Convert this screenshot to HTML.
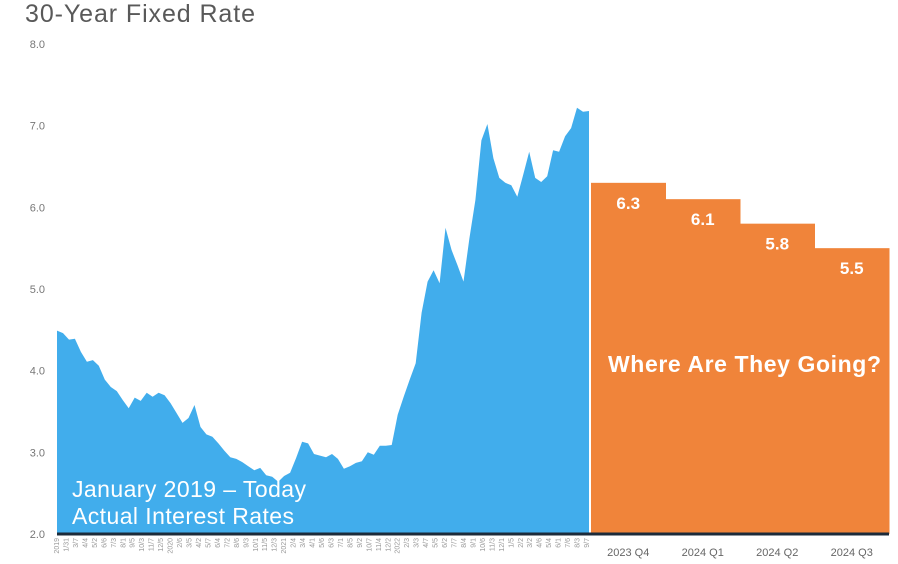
<!DOCTYPE html>
<html><head><meta charset="utf-8"><style>
body{margin:0;background:#fff;}
svg{display:block;font-family:"Liberation Sans",sans-serif;}
</style></head><body>
<svg id="chart" width="898" height="564" viewBox="0 0 898 564">
<text x="25" y="22" font-size="25" fill="#595959" textLength="230">30-Year Fixed Rate</text>
<g id="yaxis"></g>
<g id="area"></g>
<g id="bars"></g>
<g id="xaxis"></g>
<line x1="57" y1="534" x2="889" y2="534" stroke="#1c2b3a" stroke-width="3"/>
<text x="72" y="497" font-size="23" fill="#fff" textLength="234">January 2019 – Today</text>
<text x="72" y="524" font-size="23" fill="#fff" textLength="222">Actual Interest Rates</text>
<text x="608" y="372" font-size="23" font-weight="bold" fill="#fff" textLength="273">Where Are They Going?</text>
</svg>
<script>
const yTicks=[2,3,4,5,6,7,8];
const history=[4.49,4.46,4.38,4.39,4.23,4.11,4.13,4.06,3.89,3.80,3.75,3.64,3.54,3.67,3.63,3.73,3.68,3.73,3.70,3.60,3.48,3.36,3.42,3.58,3.31,3.22,3.19,3.11,3.02,2.94,2.92,2.88,2.83,2.78,2.81,2.72,2.70,2.64,2.71,2.75,2.93,3.13,3.11,2.98,2.96,2.94,2.98,2.92,2.80,2.83,2.87,2.89,3.00,2.97,3.08,3.08,3.09,3.46,3.68,3.89,4.09,4.71,5.09,5.23,5.07,5.75,5.48,5.29,5.09,5.62,6.09,6.82,7.02,6.60,6.36,6.30,6.27,6.13,6.40,6.68,6.36,6.31,6.38,6.70,6.68,6.87,6.97,7.22,7.17,7.18];
const dateLabels=["2019","1/31","3/7","4/4","5/2","6/6","7/3","8/1","9/5","10/3","11/7","12/5","2020","2/6","3/5","4/2","5/7","6/4","7/2","8/6","9/3","10/1","11/5","12/3","2021","2/4","3/4","4/1","5/6","6/3","7/1","8/5","9/2","10/7","11/4","12/2","2022","2/3","3/3","4/7","5/5","6/2","7/7","8/4","9/1","10/6","11/3","12/1","1/5","2/2","3/2","4/6","5/4","6/1","7/6","8/3","9/7"];
const quarters=["2023 Q4","2024 Q1","2024 Q2","2024 Q3"];
const forecast=[6.3,6.1,5.8,5.5];
const ns="http://www.w3.org/2000/svg";
const y=v=>534-(v-2)*(490/6);
const hx=i=>57+i*(532/(history.length-1));
function mk(t,a,p){const e=document.createElementNS(ns,t);for(const k in a)e.setAttribute(k,a[k]);p.appendChild(e);return e;}
const ya=document.getElementById('yaxis');
yTicks.forEach(v=>{const t=mk('text',{x:45,y:y(v)+4,'font-size':11,fill:'#777','text-anchor':'end'},ya);t.textContent=v.toFixed(1);

});
let d='M57,534';history.forEach((v,i)=>{d+=' L'+hx(i).toFixed(1)+','+y(v).toFixed(1);});d+=' L589,534 Z';
const p=mk('path',{d:d,fill:'#41adec'},document.getElementById('area'));


const xa=document.getElementById('xaxis');
dateLabels.forEach((l,i)=>{const x=57+i*(530/(dateLabels.length-1))+2;const t=mk('text',{transform:`translate(${x.toFixed(1)},538) rotate(-90)`,'font-size':7,fill:'#999','text-anchor':'end'},xa);t.textContent=l;

});
const bg=document.getElementById('bars');
const bx0=591,bw=74.5;
forecast.forEach((v,i)=>{const x=bx0+i*bw;
const r=mk('rect',{x:x,y:y(v),width:bw+0.5,height:534-y(v),fill:'#f0843a'},bg);


const t=mk('text',{x:x+bw/2,y:y(v)+26,'font-size':17,'font-weight':'bold',fill:'#fff','text-anchor':'middle'},bg);t.textContent=v.toFixed(1);


const q=mk('text',{x:x+bw/2,y:556,'font-size':11,fill:'#666','text-anchor':'middle'},bg);q.textContent=quarters[i];

});
</script>
</body></html>
